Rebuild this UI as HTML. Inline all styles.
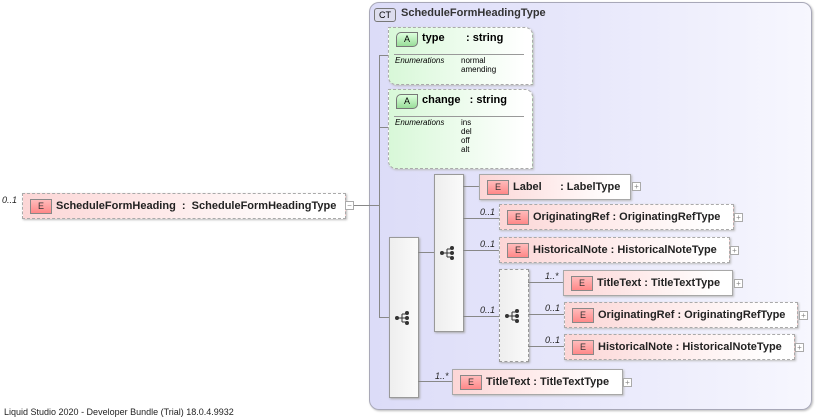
<!DOCTYPE html>
<html><head><meta charset="utf-8"><style>
body{margin:0;width:815px;height:419px;background:#fff;position:relative;overflow:hidden;font-family:"Liberation Sans",Arial,sans-serif}
.a{position:absolute}
.ct{left:369px;top:2px;width:441px;height:406px;border:1px solid #a8a8b8;border-radius:10px;background:linear-gradient(90deg,#dcdcf8 0%,#e8e8fb 50%,#f7f7fe 100%);box-shadow:1px 1px 2px #bbb}
.el{position:absolute;height:24px;background:linear-gradient(90deg,#fcd6d6,#fff 90%);border:1px solid #a8a8a8;box-shadow:1px 1px 2px #bbb;font-size:11px;font-weight:bold;color:#222;white-space:pre;line-height:24px}
.el.d{border:1px dashed #aaa}
.el .b{position:absolute;left:7px;top:5px;width:20px;height:13px;border:1px solid #888;background:linear-gradient(#fbb,#f88);font-size:9px;font-weight:normal;line-height:13px;text-align:center;color:#333}
.el .t{position:absolute;left:33px;top:0}
.pl{position:absolute;width:7px;height:7px;border:1px solid #aaa;background:#fff;font-size:8px;line-height:7px;text-align:center;color:#888}
.m{position:absolute;font-size:9px;font-style:italic;color:#222}
.h{position:absolute;height:1px;background:#888}
.v{position:absolute;width:1px;background:#888}
.seq{position:absolute;border:1px solid #999;background:linear-gradient(90deg,#eee,#fafafa);box-shadow:1px 1px 2px #aaa}
.seq.d{border:1px dashed #999}
.attr{position:absolute;border:1px dashed #aaa;border-radius:0 8px 0 8px;background:linear-gradient(90deg,#d8f8d8,#fff 95%);box-shadow:1px 1px 2px #bbb}
.attr .b{position:absolute;left:7px;top:4px;width:20px;height:13px;border:1px solid #777;border-radius:5px 0 5px 0;background:linear-gradient(#dfd,#9d9);font-size:9px;line-height:13px;text-align:center}
.attr .n{position:absolute;left:33px;top:4px;font-size:11px;font-weight:bold;white-space:pre}
.attr .r{position:absolute;left:5px;right:8px;top:26px;height:1px;background:#999}
.attr .e{position:absolute;left:6px;top:28px;font-size:8px;font-style:italic}
.attr .vl{position:absolute;left:72px;top:28px;font-size:8px;line-height:9px}
</style></head><body>
<div class="a ct"></div>
<div class="a" style="left:374px;top:8px;width:20px;height:12px;border:1px solid #777;border-radius:3px;background:#dde;font-size:9px;line-height:12px;text-align:center">CT</div>
<div class="a" style="left:401px;top:7px;font-size:11px;font-weight:bold;color:#333">ScheduleFormHeadingType</div>

<div class="attr" style="left:388px;top:27px;width:143px;height:56px"><div class="b">A</div><div class="n">type       : string</div><div class="r"></div><div class="e">Enumerations</div><div class="vl">normal<br>amending</div></div>
<div class="attr" style="left:388px;top:89px;width:143px;height:78px"><div class="b">A</div><div class="n">change   : string</div><div class="r"></div><div class="e">Enumerations</div><div class="vl">ins<br>del<br>off<br>alt</div></div>

<div class="m" style="left:2px;top:195px">0..1</div>
<div class="el d" style="left:22px;top:193px;width:322px"><div class="b">E</div><div class="t">ScheduleFormHeading  :  ScheduleFormHeadingType</div></div>
<div class="pl" style="left:345px;top:201px">−</div>
<div class="h" style="left:354px;top:205px;width:25px"></div>
<div class="v" style="left:379px;top:55px;height:263px"></div>
<div class="h" style="left:379px;top:55px;width:9px"></div>
<div class="h" style="left:379px;top:127px;width:9px"></div>
<div class="h" style="left:379px;top:317px;width:10px"></div>

<div class="seq" style="left:389px;top:237px;width:28px;height:159px"></div>
<div class="seq" style="left:434px;top:174px;width:28px;height:156px"></div>
<div class="seq d" style="left:499px;top:269px;width:28px;height:91px"></div>

<svg class="a" style="left:0;top:0" width="815" height="419">
<defs><g id="ic"><circle cx="0" cy="0" r="2" fill="#333"/><line x1="0" y1="0" x2="5" y2="0" stroke="#333"/><path d="M5 -4V4M5 -4H9M5 0H9M5 4H9" stroke="#333" fill="none"/><circle cx="10" cy="-5" r="2" fill="#333"/><circle cx="10" cy="0" r="2" fill="#333"/><circle cx="10" cy="5" r="2" fill="#333"/></g></defs>
<use href="#ic" x="397" y="318"/><use href="#ic" x="442" y="253"/><use href="#ic" x="507" y="316"/>
<g stroke="#888"><line x1="418" y1="252.5" x2="434" y2="252.5"/><line x1="418" y1="381.5" x2="452" y2="381.5"/>
<line x1="463" y1="186.5" x2="479" y2="186.5"/><line x1="463" y1="218.5" x2="499" y2="218.5"/><line x1="463" y1="250.5" x2="499" y2="250.5"/><line x1="463" y1="316.5" x2="499" y2="316.5"/>
<line x1="528" y1="282.5" x2="563" y2="282.5"/><line x1="528" y1="314.5" x2="564" y2="314.5"/><line x1="528" y1="346.5" x2="564" y2="346.5"/></g>
</svg>

<div class="el" style="left:479px;top:174px;width:150px"><div class="b">E</div><div class="t">Label      : LabelType</div></div><div class="pl" style="left:632px;top:182px">+</div>
<div class="m" style="left:480px;top:207px">0..1</div>
<div class="el d" style="left:499px;top:204px;width:233px"><div class="b">E</div><div class="t">OriginatingRef : OriginatingRefType</div></div><div class="pl" style="left:734px;top:213px">+</div>
<div class="m" style="left:480px;top:239px">0..1</div>
<div class="el d" style="left:499px;top:237px;width:229px"><div class="b">E</div><div class="t">HistoricalNote : HistoricalNoteType</div></div><div class="pl" style="left:730px;top:246px">+</div>
<div class="m" style="left:480px;top:305px">0..1</div>
<div class="m" style="left:545px;top:271px">1..*</div>
<div class="el" style="left:563px;top:270px;width:168px"><div class="b">E</div><div class="t">TitleText : TitleTextType</div></div><div class="pl" style="left:734px;top:279px">+</div>
<div class="m" style="left:545px;top:303px">0..1</div>
<div class="el d" style="left:564px;top:302px;width:232px"><div class="b">E</div><div class="t">OriginatingRef : OriginatingRefType</div></div><div class="pl" style="left:799px;top:311px">+</div>
<div class="m" style="left:545px;top:335px">0..1</div>
<div class="el d" style="left:564px;top:334px;width:229px"><div class="b">E</div><div class="t">HistoricalNote : HistoricalNoteType</div></div><div class="pl" style="left:795px;top:343px">+</div>
<div class="m" style="left:435px;top:371px">1..*</div>
<div class="el" style="left:452px;top:369px;width:169px"><div class="b">E</div><div class="t">TitleText : TitleTextType</div></div><div class="pl" style="left:623px;top:378px">+</div>

<div class="a" style="left:4px;top:407px;font-size:9px;color:#222">Liquid Studio 2020 - Developer Bundle (Trial) 18.0.4.9932</div>
</body></html>
